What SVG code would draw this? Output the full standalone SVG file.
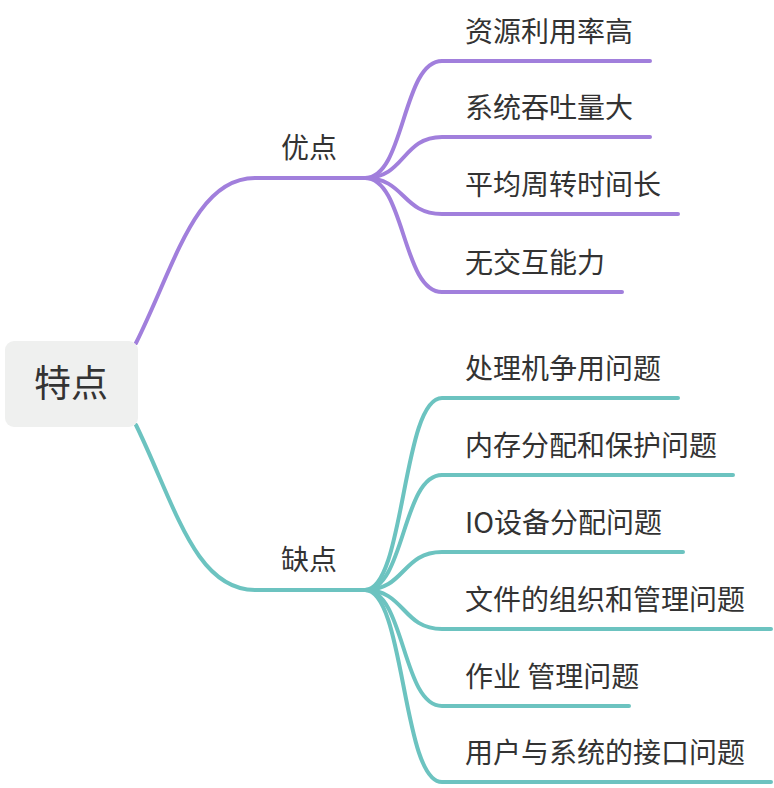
<svg xmlns="http://www.w3.org/2000/svg" width="774" height="788" viewBox="0 0 774 788">
<style>
text{font-family:"Noto Sans CJK SC","Noto Sans",sans-serif;fill:#333333;}
.leaf{font-size:28px;}
.sub{font-size:28px;}
.p{fill:none;stroke:#a17fdc;stroke-width:4;stroke-linecap:round;}
.t{fill:none;stroke:#6cc3c0;stroke-width:4;stroke-linecap:round;}
</style>
<rect width="774" height="788" fill="#ffffff"/>
<g id="connectors">
<path class="p" d="M136 343 C175 265 195 178 255 178 L368 178"/>
<path class="t" d="M136 425 C175 505 195 590 255 590 L368 590"/>
<path class="p" d="M365 178 C405 178 402 61 442 61 L650 61"/>
<path class="p" d="M365 178 C405 178 402 137 442 137 L650 137"/>
<path class="p" d="M365 178 C405 178 402 214 442 214 L678 214"/>
<path class="p" d="M365 178 C405 178 402 292 442 292 L622 292"/>
<path class="t" d="M365 590 C405 590 402 398 442 398 L678 398"/>
<path class="t" d="M365 590 C405 590 402 475 442 475 L733 475"/>
<path class="t" d="M365 590 C405 590 402 552 442 552 L683 552"/>
<path class="t" d="M365 590 C405 590 402 629 442 629 L771 629"/>
<path class="t" d="M365 590 C405 590 402 706 442 706 L629 706"/>
<path class="t" d="M365 590 C405 590 402 782 442 782 L771 782"/>
</g>
<g id="root">
<rect x="5" y="341" width="133" height="86" rx="9" fill="#eff0ef"/>
<text x="71" y="397" font-size="37" text-anchor="middle">特点</text>
</g>
<g id="youdian"><text class="sub" x="281" y="158">优点</text></g>
<g id="quedian"><text class="sub" x="281" y="570">缺点</text></g>
<g id="l1"><text class="leaf" x="465" y="42">资源利用率高</text></g>
<g id="l2"><text class="leaf" x="465" y="118">系统吞吐量大</text></g>
<g id="l3"><text class="leaf" x="465" y="195">平均周转时间长</text></g>
<g id="l4"><text class="leaf" x="465" y="273">无交互能力</text></g>
<g id="l5"><text class="leaf" x="465" y="379">处理机争用问题</text></g>
<g id="l6"><text class="leaf" x="465" y="456">内存分配和保护问题</text></g>
<g id="l7"><text class="leaf" x="465" y="533">IO设备分配问题</text></g>
<g id="l8"><text class="leaf" x="465" y="610">文件的组织和管理问题</text></g>
<g id="l9"><text class="leaf" x="465" y="687">作业 管理问题</text></g>
<g id="l10"><text class="leaf" x="465" y="763">用户与系统的接口问题</text></g>
</svg>
